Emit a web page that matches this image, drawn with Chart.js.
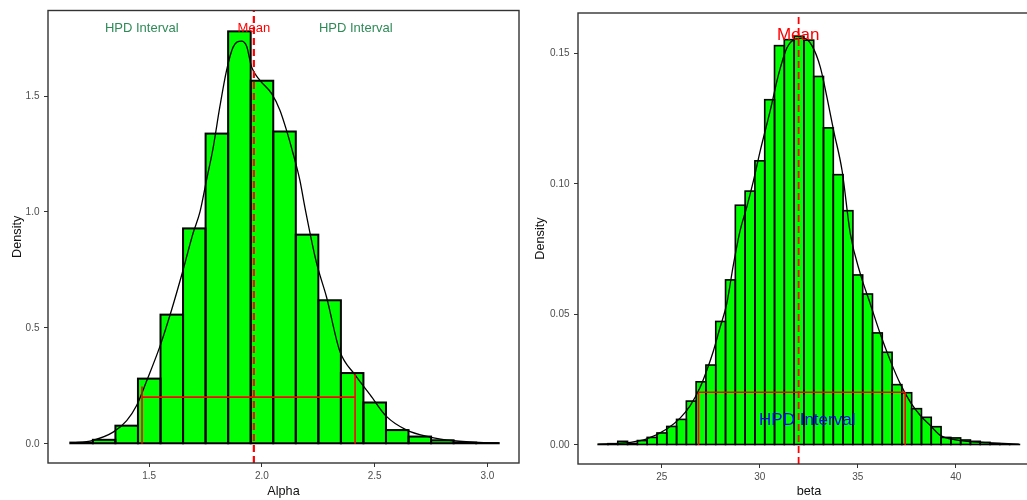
<!DOCTYPE html>
<html>
<head>
<meta charset="utf-8">
<script src="https://cdn.jsdelivr.net/npm/chart.js@4.4.1/dist/chart.umd.min.js"></script>
<style>
html,body{margin:0;padding:0;background:#fff;}
#wrap{position:relative;width:1027px;height:500px;overflow:hidden;background:#fff;}
canvas{position:absolute;top:0;}
#cA{left:0;}
#cB{left:525px;}
</style>
</head>
<body>
<div id="wrap">
<canvas id="cA" width="525" height="500"></canvas>
<canvas id="cB" width="530" height="500"></canvas>
</div>
<script>
// ---------- Alpha panel data ----------
const alphaBinCenters = [1.2,1.3,1.4,1.5,1.6,1.7,1.8,1.9,2.0,2.1,2.2,2.3,2.4,2.5,2.6,2.7,2.8,2.9,3.0];
const alphaBinDensity = [0.005,0.017,0.078,0.281,0.557,0.929,1.338,1.779,1.566,1.347,0.902,0.619,0.305,0.178,0.059,0.031,0.015,0.005,0.003];
const alphaCurveX = [1.15,1.25,1.34,1.40,1.444,1.488,1.547,1.599,1.648,1.695,1.725,1.754,1.784,1.813,1.843,1.872,1.909,1.932,1.954,1.991,2.043,2.08,2.109,2.138,2.168,2.19,2.242,2.286,2.345,2.413,2.48,2.552,2.64,2.745,2.85,3.05];
const alphaCurveY = [0.002,0.015,0.05,0.10,0.165,0.27,0.419,0.577,0.742,0.91,1.0,1.137,1.28,1.453,1.611,1.711,1.737,1.715,1.625,1.568,1.51,1.438,1.352,1.252,1.137,1.022,0.78,0.634,0.40,0.297,0.211,0.118,0.06,0.029,0.013,0.002];
const alphaMean = 1.964;
const alphaHpdBounds = [1.468, 2.413];
const alphaHpdTops = [0.247, 0.300];
const alphaHpdLevel = 0.201;
const alphaXTicks = [1.5, 2.0, 2.5, 3.0];
const alphaYTicks = [0.0, 0.5, 1.0, 1.5];
const alphaNoteText = ['HPD Interval', 'Mean', 'HPD Interval'];
const alphaNoteX = [1.467, 1.964, 2.416];
const alphaNoteY = [1.793, 1.793, 1.793];

// ---------- beta panel data ----------
const betaBinCenters = [22.0,22.5,23.0,23.5,24.0,24.5,25.0,25.5,26.0,26.5,27.0,27.5,28.0,28.5,29.0,29.5,30.0,30.5,31.0,31.5,32.0,32.5,33.0,33.5,34.0,34.5,35.0,35.5,36.0,36.5,37.0,37.5,38.0,38.5,39.0,39.5,40.0,40.5,41.0,41.5,42.0,42.5,43.0];
const betaBinDensity = [0.0003,0.0005,0.0014,0.0006,0.0017,0.0029,0.0046,0.0071,0.0098,0.0168,0.0242,0.0306,0.0473,0.0632,0.0918,0.0972,0.1088,0.1322,0.1529,0.1552,0.1565,0.1550,0.1411,0.1214,0.1035,0.0897,0.0651,0.0578,0.0429,0.0355,0.0231,0.0200,0.0139,0.0106,0.0070,0.0029,0.0027,0.0019,0.0014,0.0010,0.0005,0.0002,0.0002];
const betaCurveX = [21.76,23.38,24.23,25.25,25.93,26.44,26.95,27.29,27.63,27.97,28.31,28.65,28.99,29.33,29.67,30.02,30.53,30.96,31.38,31.81,32.23,32.66,33.09,33.43,33.77,34.2,34.62,35.13,35.64,36.15,36.66,37.17,37.69,38.2,38.71,39.22,39.73,40.58,41.6,43.22];
const betaCurveY = [0.0002,0.001,0.0023,0.0061,0.0103,0.015,0.022,0.0285,0.036,0.045,0.054,0.069,0.082,0.091,0.101,0.1126,0.128,0.142,0.152,0.1554,0.1558,0.1529,0.1446,0.133,0.1203,0.105,0.0808,0.0655,0.054,0.0425,0.0323,0.0234,0.0163,0.0112,0.0074,0.0036,0.0023,0.0014,0.0009,0.0003];
const betaMean = 31.98;
const betaHpdBounds = [26.87, 37.42];
const betaHpdTops = [0.0202, 0.0202];
const betaHpdLevel = 0.0202;
const betaXTicks = [25, 30, 35, 40];
const betaYTicks = [0.00, 0.05, 0.10, 0.15];
const betaNoteText = ['Mean', 'HPD Interval'];
const betaNoteX = [31.96, 32.42];
const betaNoteY = [0.157, 0.0096];

// ---------- drawing helpers ----------
const FONT = '"Liberation Sans", Arial, Helvetica, sans-serif';

const panelPlugin = {
  id: 'panelDeco',
  afterDatasetDraw(chart, args, opts) {
    if (args.meta.type !== 'bar') return;
    const ctx = chart.ctx;
    ctx.save();
    ctx.strokeStyle = '#000';
    ctx.lineWidth = opts.barLine;
    ctx.lineJoin = 'miter';
    args.meta.data.forEach(el => {
      const p = el.getProps(['x', 'y', 'base', 'width'], true);
      const top = Math.min(p.y, p.base);
      ctx.strokeRect(p.x - p.width / 2, top, p.width, Math.abs(p.base - p.y));
    });
    ctx.restore();
  },
  afterDatasetsDraw(chart, args, opts) {
    const ctx = chart.ctx;
    const xs = chart.scales.x, ys = chart.scales.y;
    ctx.save();
    opts.notes.forEach(n => {
      ctx.font = n.size + 'px ' + FONT;
      ctx.fillStyle = n.color;
      ctx.textAlign = 'center';
      ctx.textBaseline = 'middle';
      ctx.fillText(n.text, xs.getPixelForValue(n.x), ys.getPixelForValue(n.y));
    });
    ctx.restore();
  },
  afterDraw(chart) {
    const ctx = chart.ctx, a = chart.chartArea;
    ctx.save();
    ctx.strokeStyle = '#333';
    ctx.lineWidth = 1.4;
    ctx.strokeRect(a.left, a.top, a.right - a.left, a.bottom - a.top);
    ctx.restore();
  }
};

function makePanel(canvasId, c) {
  const xy = (xsArr, ysArr) => xsArr.map((v, i) => ({x: v, y: ysArr[i]}));
  const redLine = (data) => ({
    type: 'line', data, borderColor: '#ff0000', borderWidth: c.hpdW,
    pointRadius: 0, fill: false, order: 2
  });
  const datasets = [
    { type: 'bar', data: xy(c.centers, c.heights), backgroundColor: '#00ff00',
      borderWidth: 0, barPercentage: 1, categoryPercentage: 1, order: 10 },
    { type: 'line', data: xy(c.curveX, c.curveY), borderColor: '#000',
      borderWidth: c.curveW, pointRadius: 0, cubicInterpolationMode: 'monotone', fill: false, order: 5 },
    { type: 'line', data: [{x: c.mean, y: c.yMin}, {x: c.mean, y: c.yMax}],
      borderColor: '#ff0000', borderWidth: c.meanW, borderDash: [7, 4], pointRadius: 0, fill: false, order: 4 },
    redLine([{x: c.hpd[0], y: 0}, {x: c.hpd[0], y: c.hpdTops[0]}]),
    redLine([{x: c.hpd[0], y: c.hpdLevel}, {x: c.hpd[1], y: c.hpdLevel}]),
    redLine([{x: c.hpd[1], y: 0}, {x: c.hpd[1], y: c.hpdTops[1]}])
  ];
  const tickFont = {family: FONT, size: 10};
  const titleFont = {family: FONT, size: 12.7};
  const gridCfg = {display: true, drawOnChartArea: false, drawTicks: true, tickLength: 4,
                   tickColor: '#333', tickWidth: 1, offset: false};
  return new Chart(document.getElementById(canvasId), {
    type: 'bar',
    data: {datasets},
    plugins: [panelPlugin],
    options: {
      responsive: false, animation: false, devicePixelRatio: 1,
      layout: {padding: c.pad},
      plugins: {
        legend: {display: false}, tooltip: {enabled: false},
        panelDeco: {barLine: c.barW, notes: c.notes}
      },
      scales: {
        x: {
          type: 'linear', min: c.xMin, max: c.xMax, offset: false,
          grid: gridCfg, border: {display: false},
          ticks: {font: tickFont, color: '#4d4d4d', padding: 3, maxRotation: 0, autoSkip: false,
                  callback: v => Number(v).toFixed(c.xDec)},
          title: {display: true, text: c.xTitle, font: titleFont, color: '#111', padding: {top: 0, bottom: 1}},
          afterBuildTicks: s => { s.ticks = c.xTicks.map(v => ({value: v})); },
          afterFit: s => { s.height = c.xAxisH; }
        },
        y: {
          type: 'linear', min: c.yMin, max: c.yMax,
          grid: gridCfg, border: {display: false},
          ticks: {font: tickFont, color: '#4d4d4d', padding: 4.5, autoSkip: false,
                  callback: v => Number(v).toFixed(c.yDec)},
          title: {display: true, text: 'Density', font: titleFont, color: '#111', padding: {top: c.yTitlePad, bottom: 0}},
          afterBuildTicks: s => { s.ticks = c.yTicks.map(v => ({value: v})); },
          afterFit: s => { s.width = c.yAxisW; }
        }
      }
    }
  });
}

makePanel('cA', {
  centers: alphaBinCenters, heights: alphaBinDensity,
  curveX: alphaCurveX, curveY: alphaCurveY,
  mean: alphaMean, hpd: alphaHpdBounds, hpdTops: alphaHpdTops, hpdLevel: alphaHpdLevel,
  xTicks: alphaXTicks, yTicks: alphaYTicks, xDec: 1, yDec: 1,
  xMin: 1.051, xMax: 3.140, yMin: -0.083, yMax: 1.869,
  xTitle: 'Alpha', yTitlePad: 9.7,
  pad: {left: 0, top: 10, right: 6, bottom: 0}, xAxisH: 37, yAxisW: 48,
  barW: 2.0, curveW: 1.3, meanW: 2.2, hpdW: 1.6,
  notes: alphaNoteText.map((t, i) => ({text: t, x: alphaNoteX[i], y: alphaNoteY[i], size: 13,
          color: t === 'Mean' ? '#ff0000' : '#2e8b57'}))
});

makePanel('cB', {
  centers: betaBinCenters, heights: betaBinDensity,
  curveX: betaCurveX, curveY: betaCurveY,
  mean: betaMean, hpd: betaHpdBounds, hpdTops: betaHpdTops, hpdLevel: betaHpdLevel,
  xTicks: betaXTicks, yTicks: betaYTicks, xDec: 0, yDec: 2,
  xMin: 20.72, xMax: 44.30, yMin: -0.00728, yMax: 0.1654,
  xTitle: 'beta', yTitlePad: 7.4,
  pad: {left: 0, top: 13, right: 15, bottom: 0}, xAxisH: 36, yAxisW: 53,
  barW: 1.6, curveW: 1.3, meanW: 1.8, hpdW: 1.6,
  notes: betaNoteText.map((t, i) => ({text: t, x: betaNoteX[i], y: betaNoteY[i], size: 17,
          color: t === 'Mean' ? '#ff0000' : '#0000ff'}))
});
</script>
</body>
</html>
